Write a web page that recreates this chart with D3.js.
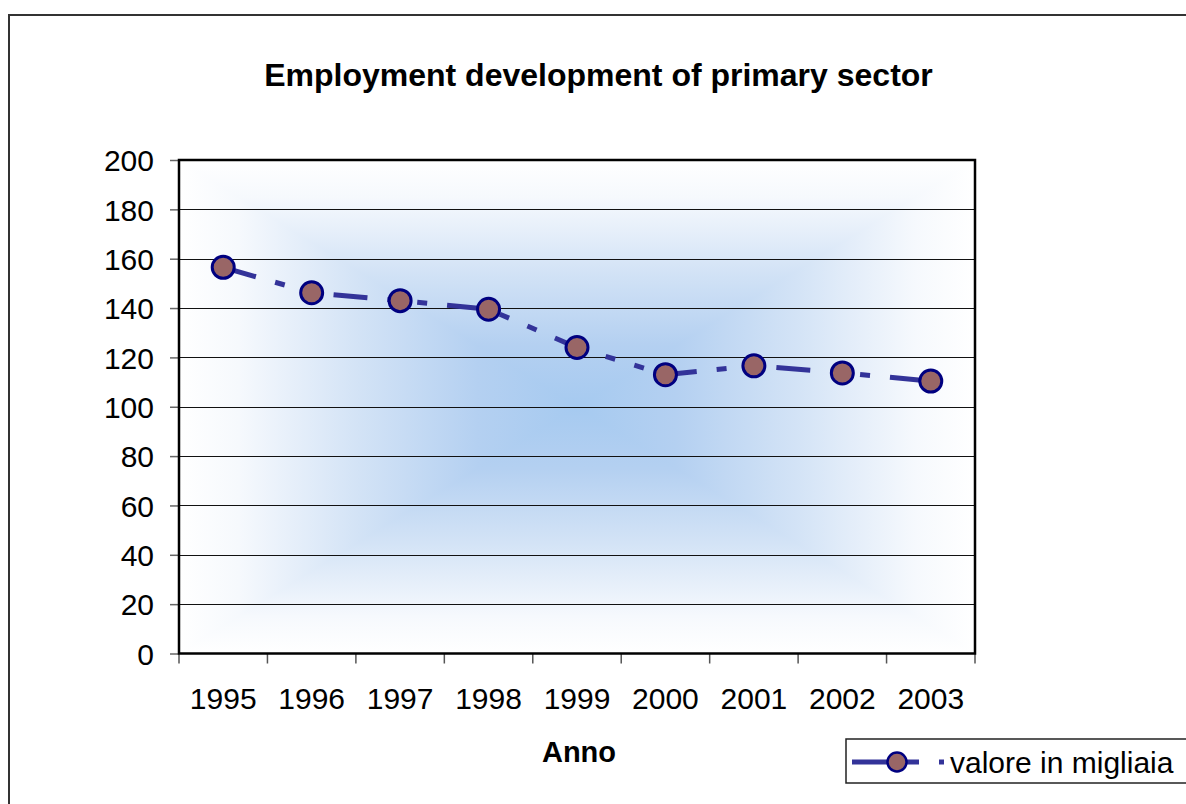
<!DOCTYPE html>
<html>
<head>
<meta charset="utf-8">
<script src="https://cdn.jsdelivr.net/npm/d3@7"></script>
<style>
  html, body { margin: 0; padding: 0; background: #ffffff; }
  svg { display: block; font-family: Arial, "Liberation Sans", sans-serif; }
</style>
</head>
<body>
<svg id="chart" width="1186" height="804"></svg>
<script>
const years = ["1995", "1996", "1997", "1998", "1999", "2000", "2001", "2002", "2003"];
const values = [156.5, 146.2, 143, 139.5, 124, 113, 116.6, 113.7, 110.4];
const yTicks = [0, 20, 40, 60, 80, 100, 120, 140, 160, 180, 200];
const titleText = "Employment development of primary sector";
const xTitle = "Anno";
const seriesName = "valore in migliaia";

const svg = d3.select("#chart");
const plot = { left: 179, top: 160, right: 975, bottom: 653.5 };

// outer chart border
svg.append("rect").attr("x", 9).attr("y", 15).attr("width", 1200).attr("height", 900)
  .attr("fill", "#ffffff").attr("stroke", "#333333").attr("stroke-width", 2);

const x = d3.scaleBand().domain(years).range([plot.left, plot.right]).paddingInner(0).paddingOuter(0);
const y = d3.scaleLinear().domain([0, 200]).range([plot.bottom, plot.top]);

// rectangular "from center" gradient background
const defs = svg.append("defs");
const cx = (plot.left + plot.right) / 2, cy = (plot.top + plot.bottom) / 2;
const stops = [[0, "#ffffff"], [0.15, "#f6f9fd"], [0.45, "#d3e3f6"], [0.75, "#b4d0f1"], [1, "#a6caf0"]];
function grad(id, x1, y1, x2, y2) {
  const g = defs.append("linearGradient").attr("id", id).attr("gradientUnits", "userSpaceOnUse")
    .attr("x1", x1).attr("y1", y1).attr("x2", x2).attr("y2", y2);
  stops.forEach(s => g.append("stop").attr("offset", s[0]).attr("stop-color", s[1]));
}
grad("gTop", 0, plot.top, 0, cy);
grad("gBot", 0, plot.bottom, 0, cy);
grad("gLeft", plot.left, 0, cx, 0);
grad("gRight", plot.right, 0, cx, 0);
const bg = svg.append("g");
bg.append("rect").attr("x", plot.left).attr("y", plot.top).attr("width", plot.right - plot.left)
  .attr("height", plot.bottom - plot.top).attr("fill", "#a6caf0");
const tri = (pts, fill) => bg.append("polygon").attr("points", pts.map(p => p.join(",")).join(" "))
  .attr("fill", fill).attr("shape-rendering", "crispEdges");
tri([[plot.left, plot.top], [plot.right, plot.top], [cx, cy]], "url(#gTop)");
tri([[plot.left, plot.bottom], [plot.right, plot.bottom], [cx, cy]], "url(#gBot)");
tri([[plot.left, plot.top], [plot.left, plot.bottom], [cx, cy]], "url(#gLeft)");
tri([[plot.right, plot.top], [plot.right, plot.bottom], [cx, cy]], "url(#gRight)");

// gridlines
svg.append("g").selectAll("line").data(yTicks.filter(t => t > 0 && t < 200)).join("line")
  .attr("x1", plot.left).attr("x2", plot.right)
  .attr("y1", d => Math.round(y(d)) + 0.5).attr("y2", d => Math.round(y(d)) + 0.5)
  .attr("stroke", "#111111").attr("stroke-width", 1);

// y axis
const yAxis = d3.axisLeft(y).tickValues(yTicks).tickSize(9).tickPadding(16).tickFormat(d3.format("d"));
const gy = svg.append("g").attr("transform", `translate(${plot.left},0)`).call(yAxis);
gy.select(".domain").remove();
gy.selectAll(".tick line").attr("stroke", "#666666").attr("stroke-width", 1.5);
gy.selectAll(".tick text").attr("font-size", 30).attr("fill", "#000").attr("dy", "0.36em")
  .attr("font-family", "Arial, 'Liberation Sans', sans-serif");

// x axis: ticks between categories
const bounds = years.map(d => x(d)).concat([plot.right]);
svg.append("g").selectAll("line").data(bounds).join("line")
  .attr("x1", d => d).attr("x2", d => d).attr("y1", plot.bottom).attr("y2", plot.bottom + 10)
  .attr("stroke", "#555555").attr("stroke-width", 1.5);
const xAxis = d3.axisBottom(x).tickSize(0).tickPadding(0);
const gx = svg.append("g").attr("transform", `translate(0,${plot.bottom})`).call(xAxis);
gx.select(".domain").remove();
gx.selectAll(".tick text").attr("font-size", 30).attr("fill", "#000").attr("dy", 0).attr("y", 55.5)
  .attr("font-family", "Arial, 'Liberation Sans', sans-serif");

// plot border
svg.append("rect").attr("x", plot.left).attr("y", plot.top).attr("width", plot.right - plot.left)
  .attr("height", plot.bottom - plot.top).attr("fill", "none").attr("stroke", "#000").attr("stroke-width", 2.5);

// series line
const cxOf = d => x(d) + x.bandwidth() / 2;
const line = d3.line().x((d, i) => cxOf(years[i])).y(d => y(d));
svg.append("path").datum(values).attr("d", line).attr("fill", "none")
  .attr("stroke", "#333399").attr("stroke-width", 5).attr("stroke-dasharray", "34,20,10,20,10,20");
svg.append("g").selectAll("circle").data(values).join("circle")
  .attr("cx", (d, i) => cxOf(years[i])).attr("cy", d => y(d)).attr("r", 11)
  .attr("fill", "#996666").attr("stroke", "#000080").attr("stroke-width", 3);

// title
svg.append("text").attr("x", 598.5).attr("y", 86).attr("text-anchor", "middle")
  .attr("font-size", 32).attr("font-weight", "bold").text(titleText);
svg.append("text").attr("x", 579).attr("y", 762).attr("text-anchor", "middle")
  .attr("font-size", 29).attr("font-weight", "bold").text(xTitle);

// legend
const lg = svg.append("g");
lg.append("rect").attr("x", 846).attr("y", 739).attr("width", 400).attr("height", 44)
  .attr("fill", "#fff").attr("stroke", "#222").attr("stroke-width", 1.5);
lg.append("line").attr("x1", 852).attr("x2", 944).attr("y1", 762).attr("y2", 762)
  .attr("stroke", "#333399").attr("stroke-width", 5).attr("stroke-dasharray", "67,20,5");
lg.append("circle").attr("cx", 897).attr("cy", 762).attr("r", 9.5)
  .attr("fill", "#996666").attr("stroke", "#000080").attr("stroke-width", 2.5);
lg.append("text").attr("x", 950).attr("y", 773).attr("font-size", 30).text(seriesName);
</script>
</body>
</html>
